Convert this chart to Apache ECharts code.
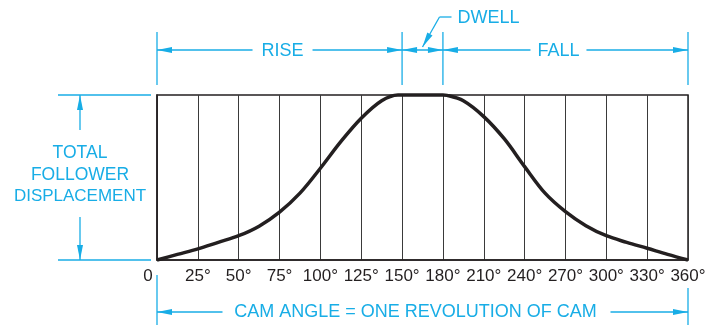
<!DOCTYPE html>
<html>
<head>
<meta charset="utf-8">
<script src="https://cdn.jsdelivr.net/npm/echarts@6/dist/echarts.min.js"></script>
<style>
html,body{margin:0;padding:0;background:#fff;}
#chart{width:718px;height:325px;}
</style>
</head>
<body>
<div id="chart"></div>
<script>
// Tick labels along the evenly spaced divisions of the cam angle axis
const angleLabels = ['0', '25°', '50°', '75°', '100°', '125°', '150°', '180°', '210°', '240°', '270°', '300°', '330°', '360°'];
// Curve sample positions (in division units along the axis) and follower displacement (0..1)
const curvePos = [0, 0.5, 1, 1.5, 2, 2.5, 3, 3.5, 4, 4.5, 5, 5.5, 5.9, 6, 7, 7.1, 7.5, 8, 8.5, 9, 9.5, 10, 10.5, 11, 11.5, 12, 12.5, 13];
const displacement = [0, 0.034, 0.067, 0.107, 0.147, 0.205, 0.29, 0.405, 0.556, 0.717, 0.859, 0.965, 1.0, 1.0, 1.0, 0.998, 0.965, 0.869, 0.735, 0.566, 0.405, 0.293, 0.208, 0.147, 0.107, 0.071, 0.034, 0];
// Phase boundaries (division indices) for the dimension annotations
const riseStart = 0, riseEnd = 6, dwellEnd = 7, fallEnd = 13;

const BLUE = '#18ade6';
const INK = '#231f20';
const FONT = 'Arial, "Liberation Sans", Helvetica, sans-serif';

const chart = echarts.init(document.getElementById('chart'), null, {renderer: 'canvas'});

chart.setOption({
  animation: false,
  backgroundColor: '#fff',
  grid: {left: 157, right: 30, top: 95, bottom: 65, show: true, borderColor: INK, borderWidth: 1.5, backgroundColor: 'transparent'},
  xAxis: {
    type: 'value', min: 0, max: angleLabels.length - 1, interval: 1,
    axisLine: {show: true, lineStyle: {color: INK, width: 1.5}},
    axisTick: {show: false},
    splitLine: {show: true, lineStyle: {color: '#3a3a3a', width: 1}},
    axisLabel: {
      margin: 8,
      color: INK, fontSize: 17, fontFamily: FONT,
      formatter: function (v) {
        const i = Math.round(v);
        if (i === 0) return '{z|' + angleLabels[0] + '}';
        return angleLabels[i];
      },
      rich: {z: {color: INK, fontSize: 17, fontFamily: FONT, padding: [0, 18, 0, 0]}}
    }
  },
  yAxis: {
    type: 'value', min: 0, max: 1,
    axisLine: {show: true, lineStyle: {color: INK, width: 1.5}},
    axisTick: {show: false}, axisLabel: {show: false}, splitLine: {show: false}
  },
  series: [{
    type: 'line',
    data: curvePos.map((p, i) => [p, displacement[i]]),
    smooth: 0.35,
    symbol: 'none',
    clip: false,
    lineStyle: {color: INK, width: 3.5}
  }]
});

function px(x, y) { return chart.convertToPixel({gridIndex: 0}, [x, y]); }

const g = [];
function line(x1, y1, x2, y2) {
  g.push({type: 'line', shape: {x1, y1, x2, y2}, style: {stroke: BLUE, lineWidth: 1.3}, silent: true});
}
function arrow(tx, ty, dx, dy) {
  const L = 15, W = 3;
  const n = Math.hypot(dx, dy); dx /= n; dy /= n;
  const bx = tx - dx * L, by = ty - dy * L;
  g.push({type: 'polygon', shape: {points: [[tx, ty], [bx - dy * W, by + dx * W], [bx + dy * W, by - dx * W]]}, style: {fill: BLUE}, silent: true});
}
function text(str, x, y, size, align) {
  g.push({type: 'text', x, y, style: {text: str, fill: BLUE, fontSize: size, fontFamily: FONT, align: align || 'center', verticalAlign: 'middle'}, silent: true});
}

const x0 = px(riseStart, 0)[0], x6 = px(riseEnd, 0)[0], x7 = px(dwellEnd, 0)[0], x13 = px(fallEnd, 0)[0];
const yTop = px(0, 1)[1], yBot = px(0, 0)[1];

// Top dimension lines
const dimY = 50;
[x0, x6, x7, x13].forEach(x => line(x, 32, x, 85));
// RISE
const riseC = (x0 + x6) / 2 + 3;
line(x0, dimY, riseC - 30, dimY); line(riseC + 30, dimY, x6, dimY);
arrow(x0, dimY, -1, 0); arrow(x6, dimY, 1, 0);
text('RISE', riseC, dimY + 1, 18);
// DWELL
line(x6, dimY, x7, dimY);
arrow(x6, dimY, -1, 0); arrow(x7, dimY, 1, 0);
const dwTipX = (x6 + x7) / 2, dwTipY = 47;
line(dwTipX + 17, 17, dwTipX + 29, 17);
line(dwTipX, dwTipY, dwTipX + 17, 17);
arrow(dwTipX, dwTipY, -17, 30);
text('DWELL', dwTipX + 35, 18, 18, 'left');
// FALL
const fallC = (x7 + x13) / 2 - 7;
line(x7, dimY, fallC - 28, dimY); line(fallC + 28, dimY, x13, dimY);
arrow(x7, dimY, -1, 0); arrow(x13, dimY, 1, 0);
text('FALL', fallC, dimY + 1, 18);

// Left dimension: total follower displacement
const lx = 80;
line(58, yTop, 151, yTop); line(58, yBot, 151, yBot);
line(lx, yTop, lx, 130); arrow(lx, yTop, 0, -1);
line(lx, 217, lx, yBot); arrow(lx, yBot, 0, 1);
text('TOTAL', lx, 153, 17.5);
text('FOLLOWER', lx, 175, 17.5);
text('DISPLACEMENT', lx, 196, 17);

// Bottom dimension: cam angle
const bY = 312;
line(x0, 275, x0, 325); line(x13, 288, x13, 325);
const camC = (x0 + x13) / 2 - 7;
line(x0, bY, camC - 193, bY); line(camC + 195, bY, x13, bY);
arrow(x0, bY, -1, 0); arrow(x13, bY, 1, 0);
text('CAM ANGLE = ONE REVOLUTION OF CAM', camC, bY, 18);

chart.setOption({graphic: g});
</script>
</body>
</html>
